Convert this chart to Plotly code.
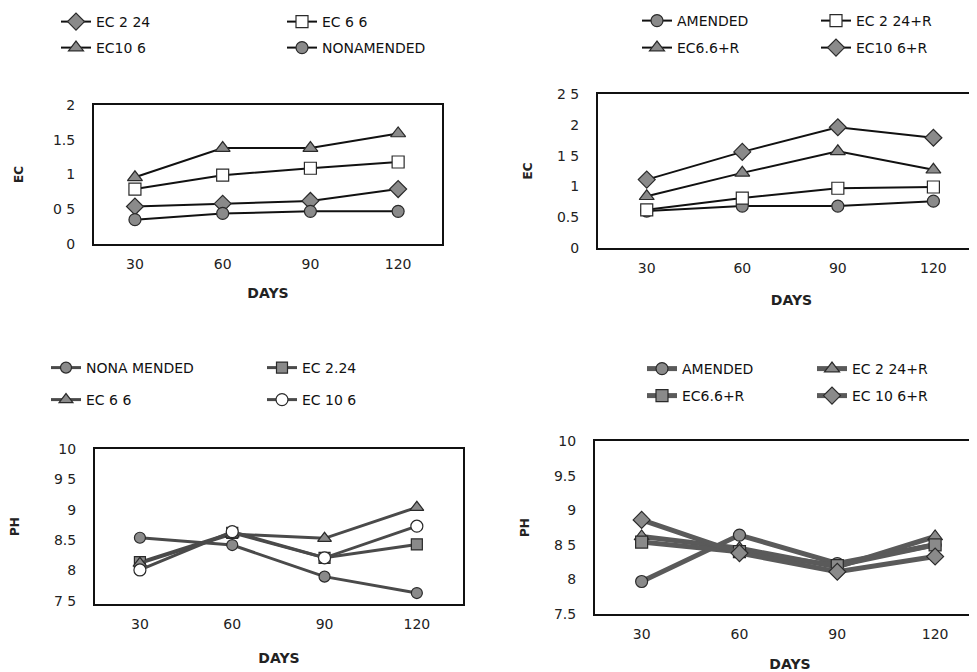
import plotly.graph_objects as go

days = [30, 60, 90, 120]

# Top-left: EC, non-amended soil
ec_names_tl = ["EC 2 24", "EC 6 6", "EC10 6", "NONAMENDED"]
ec_2_24 = [0.54, 0.58, 0.62, 0.79]
ec_6_6 = [0.79, 0.99, 1.09, 1.18]
ec_10_6 = [0.96, 1.38, 1.38, 1.59]
ec_nonamended = [0.35, 0.44, 0.47, 0.47]

# Top-right: EC, amended soil
ec_names_tr = ["AMENDED", "EC 2 24+R", "EC6.6+R", "EC10 6+R"]
ec_amended = [0.60, 0.68, 0.68, 0.76]
ec_2_24r = [0.62, 0.81, 0.97, 0.99]
ec_6_6r = [0.84, 1.22, 1.57, 1.27]
ec_10_6r = [1.11, 1.56, 1.96, 1.79]

# Bottom-left: pH, non-amended soil
ph_names_bl = ["NONA MENDED", "EC 2.24", "EC 6 6", "EC 10 6"]
ph_nonamended = [8.54, 8.42, 7.90, 7.63]
ph_2_24 = [8.14, 8.62, 8.21, 8.43]
ph_6_6 = [8.12, 8.60, 8.53, 9.04]
ph_10_6 = [8.01, 8.64, 8.21, 8.73]

# Bottom-right: pH, amended soil
ph_names_br = ["AMENDED", "EC 2 24+R", "EC6.6+R", "EC 10 6+R"]
ph_amended = [7.97, 8.64, 8.23, 8.50]
ph_2_24r = [8.62, 8.45, 8.18, 8.62]
ph_6_6r = [8.54, 8.40, 8.20, 8.50]
ph_10_6r = [8.86, 8.38, 8.11, 8.33]

# Tick labels as printed
ec_tl_vals = [0, 0.5, 1, 1.5, 2]
ec_tl_text = ["0", "0 5", "1", "1.5", "2"]
ec_tr_vals = [0, 0.5, 1, 1.5, 2, 2.5]
ec_tr_text = ["0", "0.5", "1", "1 5", "2", "2 5"]
ph_bl_vals = [7.5, 8, 8.5, 9, 9.5, 10]
ph_bl_text = ["7 5", "8", "8.5", "9", "9 5", "10"]
ph_br_vals = [7.5, 8, 8.5, 9, 9.5, 10]
ph_br_text = ["7.5", "8", "8 5", "9", "9.5", "10"]
day_text = ["30", "60", "90", "120"]

W, H = 977, 672
OFF = 8  # page body margin
FONT = "DejaVu Sans"
GREY = "#8a8a8a"
EDGE = "#2a2a2a"


def px_x(p):
    return (p - OFF) / W


def px_y(p):
    return 1 - (p - OFF) / H


fig = go.Figure()
legend_layout = {}
legend_count = [0]


def add(x, y, name, xa, ya, symbol, fill, lw, lcol, size, text_x, text_y):
    legend_count[0] += 1
    n = legend_count[0]
    lid = "legend" if n == 1 else "legend%d" % n
    fig.add_trace(go.Scatter(
        x=x, y=y, name=name, mode="lines+markers",
        xaxis=xa, yaxis=ya, legend=lid, showlegend=True,
        line=dict(color=lcol, width=lw),
        marker=dict(symbol=symbol, size=size, color=fill,
                    line=dict(color=EDGE, width=1.2)),
    ))
    legend_layout[lid] = dict(
        orientation="h", xanchor="left", yanchor="middle",
        x=px_x(text_x - 41), y=px_y(text_y),
        bgcolor="rgba(0,0,0,0)", borderwidth=0,
        font=dict(family=FONT, size=14, color="#111"),
    )


# top-left
add(days, ec_2_24, ec_names_tl[0], "x", "y", "diamond", GREY, 2, "#111", 13, 97, 22)
add(days, ec_6_6, ec_names_tl[1], "x", "y", "square", "white", 2, "#111", 12, 323, 22)
add(days, ec_10_6, ec_names_tl[2], "x", "y", "triangle-up", GREY, 2, "#111", 13, 97, 48)
add(days, ec_nonamended, ec_names_tl[3], "x", "y", "circle", GREY, 2, "#111", 12, 323, 48)
# top-right
add(days, ec_amended, ec_names_tr[0], "x2", "y2", "circle", GREY, 2, "#111", 12, 678, 21)
add(days, ec_2_24r, ec_names_tr[1], "x2", "y2", "square", "white", 2, "#111", 12, 857, 21)
add(days, ec_6_6r, ec_names_tr[2], "x2", "y2", "triangle-up", GREY, 2, "#111", 13, 678, 48)
add(days, ec_10_6r, ec_names_tr[3], "x2", "y2", "diamond", GREY, 2, "#111", 13, 857, 48)
# bottom-left
BL = "#4a4a4a"
add(days, ph_nonamended, ph_names_bl[0], "x3", "y3", "circle", GREY, 3, BL, 11, 87, 368)
add(days, ph_2_24, ph_names_bl[1], "x3", "y3", "square", GREY, 3, BL, 11, 303, 368)
add(days, ph_6_6, ph_names_bl[2], "x3", "y3", "triangle-up", GREY, 3, BL, 12, 87, 400)
add(days, ph_10_6, ph_names_bl[3], "x3", "y3", "circle", "white", 3, BL, 12, 303, 400)
# bottom-right
BR = "#5a5a5a"
add(days, ph_amended, ph_names_br[0], "x4", "y4", "circle", GREY, 5, BR, 12, 683, 369)
add(days, ph_2_24r, ph_names_br[1], "x4", "y4", "triangle-up", GREY, 5, BR, 13, 853, 369)
add(days, ph_6_6r, ph_names_br[2], "x4", "y4", "square", GREY, 5, BR, 12, 683, 396)
add(days, ph_10_6r, ph_names_br[3], "x4", "y4", "diamond", GREY, 5, BR, 13, 853, 396)


tickfont = dict(family=FONT, size=14, color="#222")
titlefont = dict(family=FONT, size=14, color="#222", weight="bold")


def xaxis(x0, x1, anchor, rng, standoff):
    return dict(domain=[max(0, px_x(x0)), min(1, px_x(x1))], anchor=anchor, range=rng,
                tickvals=days, ticktext=day_text, ticks="", ticklabelstandoff=6,
                showgrid=False, zeroline=False, showline=True, mirror=True,
                linecolor="#111", linewidth=2, tickfont=tickfont, automargin=False,
                title=dict(text="DAYS", font=titlefont, standoff=standoff))


def yaxis(y_bottom, y_top, anchor, rng, vals, text, title, full_box, standoff):
    return dict(domain=[px_y(y_bottom), px_y(y_top)], anchor=anchor, range=rng,
                tickvals=vals, ticktext=text, ticks="", ticklabelstandoff=14,
                showgrid=False, zeroline=False, showline=True,
                mirror=True if full_box else False,
                linecolor="#111", linewidth=2, tickfont=tickfont, automargin=False,
                title=dict(text=title, font=dict(family=FONT, size=12, color="#222", weight="bold"),
                           standoff=standoff))


fig.update_layout(
    width=W, height=H,
    margin=dict(l=0, r=0, t=0, b=0, autoexpand=False),
    paper_bgcolor="white", plot_bgcolor="white",
    template="none", showlegend=True,
    font=dict(family=FONT, color="#222"),
    xaxis=xaxis(94, 442, "y", [16, 135], 17),
    yaxis=yaxis(244, 105, "x", [0, 2], ec_tl_vals, ec_tl_text, "EC", True, 27),
    xaxis2=xaxis(598, 985, "y2", [14.7, 136.2], 20),
    yaxis2=yaxis(248, 94, "x2", [0, 2.5], ec_tr_vals, ec_tr_text, "EC", False, 22),
    xaxis3=xaxis(95, 463, "y3", [15.4, 135], 22),
    yaxis3=yaxis(604, 449, "x3", [7.45, 10], ph_bl_vals, ph_bl_text, "PH", True, 32),
    xaxis4=xaxis(595, 985, "y4", [15.7, 135.3], 18),
    yaxis4=yaxis(614, 441, "x4", [7.5, 10], ph_br_vals, ph_br_text, "PH", False, 22),
    **legend_layout,
)

fig.write_html("out.html")
